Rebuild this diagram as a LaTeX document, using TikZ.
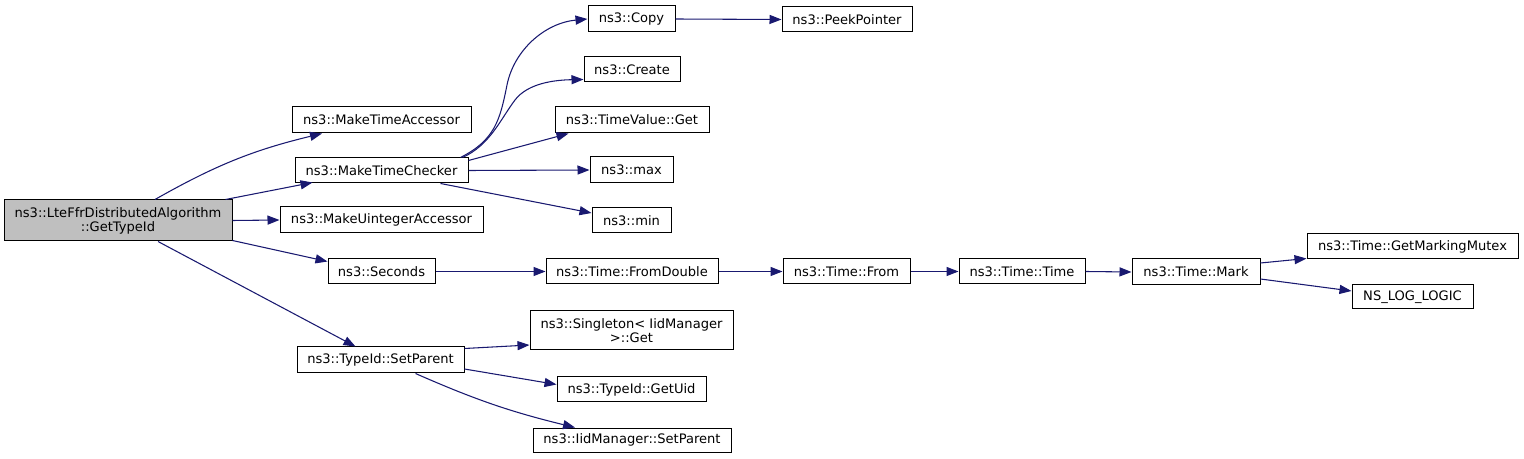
\documentclass[tikz,border=0pt]{standalone}
\usepackage{fontspec}
\setmainfont{DejaVu Sans}
\usetikzlibrary{calc,arrows.meta}

\begin{document}
\begin{tikzpicture}[x=0.75pt,y=-0.75pt,>={Triangle[length=9pt,width=6.8pt]},
  fn/.style 2 args={draw=black,fill=white,line width=0.75pt,inner sep=0pt,align=center,
    font=\fontsize{9.8}{10.5}\selectfont,minimum width=#1*0.75pt,minimum height=#2*0.75pt},
  call/.style={->,draw={rgb,255:red,25;green,25;blue,112},line width=0.8pt}]
  \useasboundingbox (0,0) rectangle (1524,459);
  \node[fn={228}{41},fill={rgb,255:red,191;green,191;blue,191}] (root) at (118,220.5)
    {ns3::LteFfrDistributedAlgorithm\\::GetTypeId};
  \node[fn={179}{26}] (mta) at (381.5,120) {ns3::MakeTimeAccessor};
  \node[fn={173}{25}] (mtc) at (381.5,170.5) {ns3::MakeTimeChecker};
  \node[fn={203}{26}] (mua) at (381.5,220) {ns3::MakeUintegerAccessor};
  \node[fn={107}{25}] (sec) at (381.5,271.5) {ns3::Seconds};
  \node[fn={167}{26}] (tsp) at (380.5,360) {ns3::TypeId::SetParent};
  \node[fn={87}{26}] (copy) at (631.5,19) {ns3::Copy};
  \node[fn={96}{25}] (create) at (632,69.5) {ns3::Create};
  \node[fn={154}{26}] (tvg) at (632,120) {ns3::TimeValue::Get};
  \node[fn={83}{26}] (max) at (631.5,170) {ns3::max};
  \node[fn={79}{25}] (min) at (631.5,220.5) {ns3::min};
  \node[fn={172}{25}] (fd) at (632,271.5) {ns3::Time::FromDouble};
  \node[fn={203}{39}] (sing) at (631.5,330.5) {ns3::Singleton< IidManager\\>::Get};
  \node[fn={149}{25}] (guid) at (631.5,389.5) {ns3::TypeId::GetUid};
  \node[fn={198}{24}] (isp) at (632,440) {ns3::IidManager::SetParent};
  \node[fn={130}{25}] (peek) at (847,19.5) {ns3::PeekPointer};
  \node[fn={127}{25}] (from) at (846.5,271.5) {ns3::Time::From};
  \node[fn={126}{25}] (time) at (1022,271.5) {ns3::Time::Time};
  \node[fn={128}{26}] (mark) at (1196,272) {ns3::Time::Mark};
  \node[fn={211}{25}] (gmm) at (1412.5,246.5) {ns3::Time::GetMarkingMutex};
  \node[fn={121}{24}] (nll) at (1412.5,297) {NS\_LOG\_LOGIC};

  \draw[call] ($(root.north)+(37,0)$) to[bend left=8] ($(mta.south)+(-59.5,0)$);
  \draw[call] ($(root.north east)+(-7,0)$) -- ($(mtc.south west)+(18,-1)$);
  \draw[call] (root.east) -- (mua.west);
  \draw[call] ($(root.south east)+(0,-1)$) -- ($(sec.north west)+(0,3)$);
  \draw[call] ($(root.south)+(40,0)$) -- ($(tsp.north)+(-25,0)$);
  \draw[call] ($(mtc.north east)+(-8,0)$) .. controls (495,140) and (500,120) .. (507,85)
    .. controls (514,50) and (545,23) .. (copy.west);
  \draw[call] ($(mtc.north east)+(-6,0)$) .. controls (490,145) and (500,120) .. (515,100)
    .. controls (528,83) and (555,80) .. ($(create.south west)+(0,-3)$);
  \draw[call] ($(mtc.north east)+(0,3)$) -- ($(tvg.south west)+(14,0)$);
  \draw[call] (mtc.east) -- (max.west);
  \draw[call] ($(mtc.south east)+(-28,0)$) -- ($(min.west)+(0,-7.5)$);
  \draw[call] (copy.east) -- (peek.west);
  \draw[call] (sec.east) -- (fd.west);
  \draw[call] (fd.east) -- (from.west);
  \draw[call] (from.east) -- (time.west);
  \draw[call] (time.east) -- (mark.west);
  \draw[call] ($(mark.east)+(0,-9)$) -- ($(gmm.south west)+(0,-1)$);
  \draw[call] ($(mark.east)+(0,7)$) -- ($(nll.west)+(0,-6)$);
  \draw[call] ($(tsp.north east)+(0,2)$) -- ($(sing.west)+(0,14.5)$);
  \draw[call] ($(tsp.east)+(0,9)$) -- ($(guid.west)+(0,-5)$);
  \draw[call] ($(tsp.south)+(35,0)$) to[bend right=5] ($(isp.north)+(-57,0)$);
\end{tikzpicture}
\end{document}
